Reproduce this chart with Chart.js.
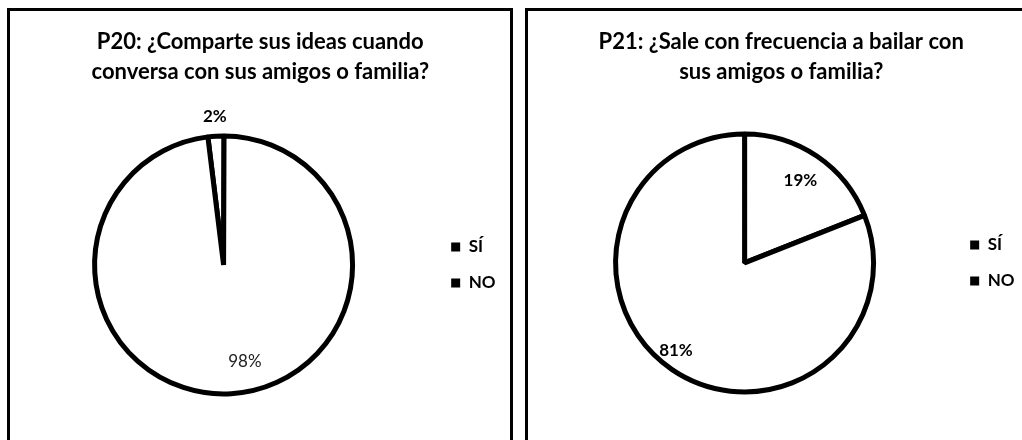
<!DOCTYPE html>
<html>
<head>
<meta charset="utf-8">
<script src="https://cdn.jsdelivr.net/npm/chart.js@4.4.0/dist/chart.umd.min.js"></script>
<style>
  html, body { margin: 0; padding: 0; background: #fff; overflow: hidden; }
  body { width: 1022px; height: 440px; position: relative; }
  .panel { position: absolute; top: 8px; border: 3px solid #000; width: 500px; height: 440px; }
  .box { position: relative; width: 500px; height: 429px; }
</style>
</head>
<body>
<div class="panel" style="left:7px"><div class="box"><canvas id="p20"></canvas></div></div>
<div class="panel" style="left:525px"><div class="box"><canvas id="p21"></canvas></div></div>
<script>
  // categories and values
  const categories = ['SÍ', 'NO'];
  const p20Values = [2, 98];
  const p21Values = [19, 81];
  const p20Title = ['P20: ¿Comparte sus ideas cuando', 'conversa con sus amigos o familia?'];
  const p21Title = ['P21: ¿Sale con frecuencia a bailar con', 'sus amigos o familia?'];

  const FONT = 'Lato, "Open Sans", sans-serif';

  // draws the percentage of each slice, like Excel data labels
  const sliceLabels = {
    id: 'sliceLabels',
    afterDatasetsDraw(chart, args, opts) {
      const ctx = chart.ctx;
      const meta = chart.getDatasetMeta(0);
      const data = chart.data.datasets[0].data;
      const total = data.reduce((a, b) => a + b, 0);
      meta.data.forEach((arc, i) => {
        const p = arc.getProps(['x', 'y', 'startAngle', 'endAngle', 'outerRadius'], true);
        const place = opts.place[i];
        const mid = (p.startAngle + p.endAngle) / 2 + place.da * Math.PI / 180;
        const r = p.outerRadius * place.r;
        ctx.save();
        ctx.font = (place.weight || 'bold') + ' 17px ' + FONT;
        ctx.fillStyle = place.color || '#000';
        ctx.textAlign = 'center';
        ctx.textBaseline = 'middle';
        ctx.fillText(Math.round(data[i] / total * 100) + '%', p.x + Math.cos(mid) * r, p.y + Math.sin(mid) * r);
        ctx.restore();
      });
    },
  };

  function makePie(id, title, values, rotation, padding, place) {
    new Chart(document.getElementById(id), {
      type: 'pie',
      data: {
        labels: categories,
        datasets: [
          {
            data: values,
            backgroundColor: '#fff',
            borderColor: '#000',
            borderWidth: 5,
            radius: 129,
          },
        ],
      },
      options: {
        responsive: true,
        maintainAspectRatio: false,
        animation: false,
        rotation: rotation,
        layout: { padding: padding },
        plugins: {
          tooltip: { enabled: false },
          title: {
            display: true,
            text: title,
            color: '#000',
            font: { family: FONT, size: 22, weight: 'bold', lineHeight: 1.36 },
            padding: { top: 16, bottom: 10 },
          },
          legend: {
            position: 'right',
            fullSize: false,
            labels: {
              color: '#000',
              font: { family: FONT, size: 17, weight: 'bold' },
              boxWidth: 9,
              boxHeight: 9,
              padding: 19,
              generateLabels: (chart) =>
                chart.data.labels.map((text, i) => ({
                  text: text,
                  fillStyle: '#000',
                  strokeStyle: '#000',
                  lineWidth: 0,
                  fontColor: '#000',
                  index: i,
                })),
            },
          },
          sliceLabels: { place: place },
        },
      },
      plugins: [sliceLabels],
    });
  }

  makePie('p20', p20Title, p20Values, -7, { left: 5, right: 4.5, top: 0, bottom: 7 }, [
    { r: 1.15, da: 0 },
    { r: 0.77, da: -9, weight: 'normal', color: '#222' },
  ]);
  makePie('p21', p21Title, p21Values, 0, { left: 10, right: 3.5, top: 0, bottom: 11 }, [
    { r: 0.77, da: 0 },
    { r: 0.86, da: 4 },
  ]);
</script>
</body>
</html>
